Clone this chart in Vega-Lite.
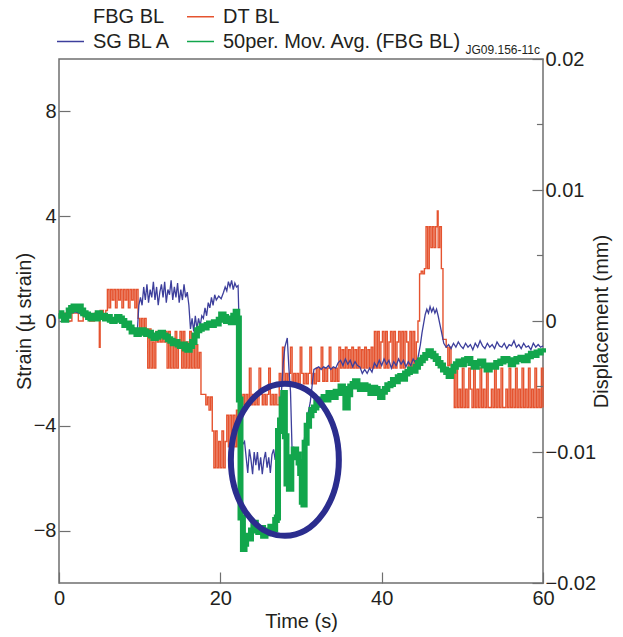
{
"$schema": "https://vega.github.io/schema/vega-lite/v6.json",
"autosize": {"type": "none"},
"width": 484,
"height": 524,
"padding": {"left": 59, "top": 59, "right": 80, "bottom": 54},
"background": "white",
"config": {
  "font": "Liberation Sans",
  "view": {"stroke": "#6f6f6f", "strokeWidth": 1.5},
  "axis": {"domain": false, "grid": false, "labelFontSize": 20, "titleFontSize": 20, "titleFontWeight": "normal", "labelColor": "#231f20", "titleColor": "#231f20", "tickColor": "#6f6f6f", "tickWidth": 1.2, "labelFlush": false}
},
"title": {"text": "JG09.156-11c", "anchor": "end", "frame": "group", "fontSize": 12, "fontWeight": "normal", "offset": 5, "dy": 60, "dx": -3, "color": "#231f20"},
"datasets": {
  "dt": [
    {"t":0,"v":0.0006},{"t":1.0,"v":0},{"t":1.6,"v":0.0006},{"t":2.4,"v":0},{"t":3.0,"v":0.0006},{"t":3.8,"v":0},{"t":4.4,"v":0.0006},{"t":5.0,"v":-0.002},{"t":5.1,"v":0.0008},{"t":5.5,"v":0.0002},{"t":5.8,"v":0.0008},
    {"t":6.0,"v":0.0024},{"t":6.2,"v":0.001},{"t":6.4,"v":0.0024},{"t":6.6,"v":0.0016},{"t":6.8,"v":0.0024},{"t":7.0,"v":0.001},{"t":7.2,"v":0.0024},{"t":7.4,"v":0.0016},{"t":7.6,"v":0.0024},{"t":7.8,"v":0.001},{"t":8.0,"v":0.0024},{"t":8.2,"v":0.0016},{"t":8.4,"v":0.0024},{"t":8.6,"v":0.001},{"t":8.8,"v":0.0024},{"t":9.0,"v":0.0016},{"t":9.2,"v":0.0024},{"t":9.4,"v":0.001},{"t":9.6,"v":0.0024},
    {"t":9.8,"v":0.0002},{"t":10.0,"v":-0.0006},{"t":10.2,"v":0.0002},{"t":10.4,"v":-0.0006},{"t":10.6,"v":0.0002},{"t":10.8,"v":-0.0006},{"t":11.0,"v":-0.0036},{"t":11.2,"v":-0.0006},{"t":11.4,"v":-0.0036},{"t":11.6,"v":-0.0016},{"t":11.8,"v":-0.0036},
    {"t":12.0,"v":-0.0008},{"t":12.2,"v":-0.0016},{"t":12.4,"v":-0.0008},{"t":12.6,"v":-0.0016},{"t":12.8,"v":-0.0008},{"t":13.0,"v":-0.0016},{"t":13.2,"v":-0.0008},{"t":13.4,"v":-0.0036},{"t":13.6,"v":-0.0008},{"t":13.8,"v":-0.0036},{"t":14.0,"v":-0.0016},{"t":14.2,"v":-0.0036},{"t":14.4,"v":-0.0008},{"t":14.6,"v":-0.0036},{"t":14.8,"v":-0.0016},{"t":15.0,"v":-0.0008},{"t":15.2,"v":-0.0036},{"t":15.4,"v":-0.0008},{"t":15.6,"v":-0.0036},{"t":15.8,"v":-0.0016},{"t":16.0,"v":-0.0036},{"t":16.2,"v":-0.0008},{"t":16.4,"v":-0.0036},{"t":16.6,"v":-0.0018},{"t":16.8,"v":-0.0036},{"t":17.0,"v":-0.0018},{"t":17.2,"v":-0.0036},{"t":17.4,"v":-0.0024},
    {"t":17.6,"v":-0.0056},{"t":17.9,"v":-0.0056},{"t":18.2,"v":-0.0064},{"t":18.4,"v":-0.0058},{"t":18.6,"v":-0.0068},{"t":18.8,"v":-0.0058},{"t":19.0,"v":-0.0084},{"t":19.2,"v":-0.0112},{"t":19.4,"v":-0.0084},{"t":19.6,"v":-0.0112},{"t":19.8,"v":-0.0092},{"t":20.0,"v":-0.0112},{"t":20.2,"v":-0.0084},{"t":20.4,"v":-0.0112},{"t":20.6,"v":-0.0092},{"t":20.8,"v":-0.0072},{"t":21.0,"v":-0.0096},{"t":21.2,"v":-0.0072},{"t":21.4,"v":-0.0096},{"t":21.6,"v":-0.0072},{"t":21.8,"v":-0.0096},{"t":22.0,"v":-0.0068},{"t":22.2,"v":-0.0096},
    {"t":22.4,"v":-0.0056},{"t":22.6,"v":-0.0064},{"t":22.8,"v":-0.0056},{"t":23.0,"v":-0.0064},{"t":23.2,"v":-0.0056},{"t":23.4,"v":-0.0064},{"t":23.6,"v":-0.0036},{"t":23.8,"v":-0.0064},{"t":24.0,"v":-0.0056},{"t":24.2,"v":-0.0064},{"t":24.4,"v":-0.0056},{"t":24.6,"v":-0.0064},{"t":24.8,"v":-0.0036},{"t":25.0,"v":-0.0056},{"t":25.2,"v":-0.0064},{"t":25.4,"v":-0.0056},{"t":25.6,"v":-0.0064},{"t":25.8,"v":-0.0056},{"t":26.0,"v":-0.0036},{"t":26.2,"v":-0.0064},{"t":26.4,"v":-0.0056},{"t":26.6,"v":-0.0064},{"t":26.8,"v":-0.0056},{"t":27.0,"v":-0.0064},
    {"t":27.3,"v":-0.004},{"t":27.5,"v":-0.0048},{"t":27.7,"v":-0.002},{"t":27.9,"v":-0.0048},{"t":28.1,"v":-0.004},{"t":28.3,"v":-0.0048},{"t":28.5,"v":-0.004},{"t":28.7,"v":-0.002},{"t":28.9,"v":-0.0048},{"t":29.1,"v":-0.004},{"t":29.3,"v":-0.0048},{"t":29.5,"v":-0.004},{"t":29.7,"v":-0.0048},{"t":29.9,"v":-0.002},{"t":30.1,"v":-0.004},{"t":30.3,"v":-0.0048},{"t":30.5,"v":-0.004},{"t":30.7,"v":-0.0048},{"t":30.9,"v":-0.004},{"t":31.1,"v":-0.002},{"t":31.3,"v":-0.0048},{"t":31.5,"v":-0.004},{"t":31.7,"v":-0.0048},
    {"t":31.9,"v":-0.0036},{"t":32.1,"v":-0.0046},{"t":32.3,"v":-0.0036},{"t":32.5,"v":-0.002},{"t":32.7,"v":-0.0046},{"t":32.9,"v":-0.0036},{"t":33.1,"v":-0.0046},{"t":33.3,"v":-0.0036},{"t":33.5,"v":-0.002},{"t":33.7,"v":-0.0046},{"t":33.9,"v":-0.0036},{"t":34.1,"v":-0.0046},{"t":34.3,"v":-0.0036},{"t":34.5,"v":-0.0046},{"t":34.7,"v":-0.002},{"t":34.9,"v":-0.0036},
    {"t":35.1,"v":-0.0022},{"t":35.3,"v":-0.0036},{"t":35.5,"v":-0.002},{"t":35.7,"v":-0.0036},{"t":35.9,"v":-0.0022},{"t":36.1,"v":-0.0036},{"t":36.3,"v":-0.002},{"t":36.5,"v":-0.0036},{"t":36.7,"v":-0.0022},{"t":36.9,"v":-0.0036},{"t":37.1,"v":-0.002},{"t":37.3,"v":-0.0036},{"t":37.5,"v":-0.0022},{"t":37.7,"v":-0.0036},{"t":37.9,"v":-0.002},{"t":38.1,"v":-0.0036},{"t":38.3,"v":-0.0022},{"t":38.5,"v":-0.0036},{"t":38.7,"v":-0.002},{"t":38.9,"v":-0.0036},
    {"t":39.1,"v":-0.0008},{"t":39.3,"v":-0.0036},{"t":39.5,"v":-0.0008},{"t":39.7,"v":-0.0036},{"t":39.9,"v":-0.0016},{"t":40.1,"v":-0.0008},{"t":40.3,"v":-0.0036},{"t":40.5,"v":-0.0008},{"t":40.7,"v":-0.0036},{"t":40.9,"v":-0.0016},{"t":41.1,"v":-0.0008},{"t":41.3,"v":-0.0036},{"t":41.5,"v":-0.0008},{"t":41.7,"v":-0.0036},{"t":41.9,"v":-0.0016},{"t":42.1,"v":-0.0008},{"t":42.3,"v":-0.0036},{"t":42.5,"v":-0.0008},{"t":42.7,"v":-0.0036},{"t":42.9,"v":-0.0008},{"t":43.1,"v":-0.0016},{"t":43.3,"v":-0.0036},{"t":43.5,"v":-0.0008},{"t":43.7,"v":-0.0036},{"t":43.9,"v":-0.0008},{"t":44.1,"v":-0.0036},{"t":44.3,"v":-0.0016},
    {"t":44.5,"v":0.0},{"t":44.7,"v":0.0036},{"t":44.9,"v":0.0038},{"t":45.1,"v":0.0036},{"t":45.3,"v":0.004},{"t":45.5,"v":0.0072},{"t":45.7,"v":0.004},{"t":45.9,"v":0.0072},{"t":46.1,"v":0.0056},{"t":46.3,"v":0.0072},{"t":46.5,"v":0.0056},{"t":46.7,"v":0.0072},{"t":46.9,"v":0.0084},{"t":47.0,"v":0.0056},{"t":47.2,"v":0.0072},{"t":47.4,"v":0.004},
    {"t":47.6,"v":-0.0014},{"t":47.8,"v":-0.0014},{"t":48.0,"v":-0.002},{"t":48.2,"v":-0.0034},{"t":48.4,"v":-0.002},{"t":48.6,"v":-0.0034},{"t":48.8,"v":-0.0036},
    {"t":49.0,"v":-0.0066},{"t":49.2,"v":-0.0036},{"t":49.4,"v":-0.0066},{"t":49.6,"v":-0.0052},{"t":49.8,"v":-0.0066},{"t":50.0,"v":-0.0036},{"t":50.2,"v":-0.0066},{"t":50.4,"v":-0.0052},{"t":50.6,"v":-0.0066},{"t":50.8,"v":-0.0036},{"t":51.0,"v":-0.0052},{"t":51.2,"v":-0.0066},{"t":51.4,"v":-0.0036},{"t":51.6,"v":-0.0066},{"t":51.8,"v":-0.0052},{"t":52.0,"v":-0.0066},{"t":52.2,"v":-0.0036},{"t":52.4,"v":-0.0066},{"t":52.6,"v":-0.0052},{"t":52.8,"v":-0.0066},{"t":53.0,"v":-0.0036},{"t":53.2,"v":-0.0066},{"t":53.4,"v":-0.0066},{"t":53.6,"v":-0.0052},{"t":53.8,"v":-0.0066},{"t":54.0,"v":-0.0036},{"t":54.2,"v":-0.0066},{"t":54.4,"v":-0.0052},{"t":54.6,"v":-0.0066},{"t":54.8,"v":-0.0036},{"t":55.0,"v":-0.0066},{"t":55.2,"v":-0.0066},{"t":55.4,"v":-0.0052},{"t":55.6,"v":-0.0066},{"t":55.8,"v":-0.0036},{"t":56.0,"v":-0.0066},{"t":56.2,"v":-0.0052},{"t":56.4,"v":-0.0066},{"t":56.6,"v":-0.0036},{"t":56.8,"v":-0.0066},{"t":57.0,"v":-0.0052},{"t":57.2,"v":-0.0066},{"t":57.4,"v":-0.0036},{"t":57.6,"v":-0.0066},{"t":57.8,"v":-0.0052},{"t":58.0,"v":-0.0066},{"t":58.2,"v":-0.0036},{"t":58.4,"v":-0.0066},{"t":58.6,"v":-0.0052},{"t":58.8,"v":-0.0066},{"t":59.0,"v":-0.0036},{"t":59.2,"v":-0.0066},{"t":59.4,"v":-0.0052},{"t":59.6,"v":-0.0066},{"t":59.8,"v":-0.0036},{"t":60,"v":-0.0066}
  ],
  "minor": [{"v":0.015},{"v":0.005},{"v":-0.005},{"v":-0.015}],
  "sg": [
    {"t":0,"v":0.2},{"t":0.5,"v":0.25},{"t":1,"v":0.3},{"t":1.5,"v":0.3},{"t":2,"v":0.35},{"t":2.5,"v":0.3},{"t":3,"v":0.2},{"t":3.5,"v":0.15},{"t":4,"v":0.15},{"t":4.5,"v":0.2},{"t":5,"v":0.15},{"t":5.5,"v":0.1},{"t":6,"v":0.05},{"t":6.5,"v":0.05},{"t":7,"v":0.1},{"t":7.5,"v":0.05},{"t":8,"v":-0.05},{"t":8.5,"v":-0.1},{"t":9,"v":-0.2},{"t":9.5,"v":-0.3},{"t":9.7,"v":-0.45},
    {"t":9.9,"v":0.6},{"t":10.1,"v":0.9},{"t":10.3,"v":0.6},{"t":10.5,"v":1.3},{"t":10.7,"v":0.8},{"t":10.9,"v":1.4},{"t":11.1,"v":0.7},{"t":11.3,"v":1.2},{"t":11.5,"v":0.9},{"t":11.7,"v":1.5},{"t":11.9,"v":0.8},{"t":12.1,"v":1.3},{"t":12.3,"v":0.6},{"t":12.5,"v":1.1},{"t":12.7,"v":1.4},{"t":12.9,"v":0.9},{"t":13.1,"v":1.5},{"t":13.3,"v":0.7},{"t":13.5,"v":1.2},{"t":13.7,"v":1.0},{"t":13.9,"v":1.55},{"t":14.1,"v":0.8},{"t":14.3,"v":1.3},{"t":14.5,"v":0.9},{"t":14.7,"v":1.45},{"t":14.9,"v":0.7},{"t":15.1,"v":1.2},{"t":15.3,"v":0.8},{"t":15.5,"v":1.4},{"t":15.7,"v":0.9},{"t":15.9,"v":1.1},{"t":16.1,"v":0.6},
    {"t":16.3,"v":-0.3},{"t":16.5,"v":0.1},{"t":16.7,"v":-0.4},{"t":16.9,"v":0.2},{"t":17.1,"v":-0.3},{"t":17.3,"v":0.1},{"t":17.5,"v":-0.2},{"t":17.7,"v":0.2},{"t":17.9,"v":0.1},{"t":18.1,"v":0.5},{"t":18.3,"v":0.2},{"t":18.5,"v":0.7},{"t":18.7,"v":0.5},{"t":18.9,"v":0.9},{"t":19.1,"v":0.6},{"t":19.3,"v":1.0},{"t":19.5,"v":0.8},{"t":19.8,"v":0.95},{"t":20.1,"v":0.85},{"t":20.4,"v":1.1},{"t":20.6,"v":1.3},{"t":20.8,"v":1.15},{"t":21.0,"v":1.5},{"t":21.2,"v":1.3},{"t":21.4,"v":1.55},{"t":21.6,"v":1.2},{"t":21.8,"v":1.45},{"t":22.0,"v":1.3},{"t":22.2,"v":1.35},
    {"t":22.4,"v":-1.0},{"t":22.6,"v":-4.5},{"t":22.8,"v":-4.7},{"t":23.0,"v":-4.6},{"t":23.2,"v":-5.2},{"t":23.4,"v":-5.8},{"t":23.6,"v":-4.9},{"t":23.8,"v":-5.3},{"t":24.0,"v":-5.85},{"t":24.2,"v":-5.0},{"t":24.4,"v":-5.5},{"t":24.6,"v":-5.0},{"t":24.8,"v":-5.7},{"t":25.0,"v":-5.2},{"t":25.2,"v":-5.85},{"t":25.4,"v":-5.3},{"t":25.6,"v":-5.0},{"t":25.8,"v":-5.6},{"t":26.0,"v":-5.2},{"t":26.2,"v":-5.8},{"t":26.4,"v":-5.1},{"t":26.6,"v":-4.9},{"t":26.8,"v":-5.3},{"t":27.0,"v":-4.7},{"t":27.2,"v":-4.6},
    {"t":27.4,"v":-3.3},{"t":27.6,"v":-2.6},{"t":27.8,"v":-1.6},{"t":28.0,"v":-1.0},{"t":28.3,"v":-0.65},{"t":28.5,"v":-1.8},{"t":28.7,"v":-2.7},{"t":28.9,"v":-5.0},{"t":29.1,"v":-4.8},{"t":29.3,"v":-5.3},{"t":29.5,"v":-4.9},{"t":29.7,"v":-5.7},{"t":29.9,"v":-5.5},{"t":30.0,"v":-6.3},{"t":30.2,"v":-5.4},{"t":30.3,"v":-4.8},{"t":30.5,"v":-4.3},{"t":30.7,"v":-3.9},{"t":30.9,"v":-3.5},{"t":31.15,"v":-3.1},{"t":31.4,"v":-2.4},{"t":31.6,"v":-1.85},
    {"t":31.9,"v":-1.8},{"t":32.2,"v":-1.75},{"t":32.5,"v":-1.85},{"t":32.8,"v":-1.75},{"t":33.1,"v":-1.8},{"t":33.4,"v":-1.7},{"t":33.7,"v":-1.85},{"t":34.0,"v":-1.75},{"t":34.3,"v":-1.8},{"t":34.6,"v":-1.6},{"t":34.9,"v":-1.5},{"t":35.2,"v":-1.7},{"t":35.5,"v":-1.45},{"t":35.8,"v":-1.65},{"t":36.1,"v":-1.5},{"t":36.4,"v":-1.75},{"t":36.7,"v":-1.55},{"t":37.0,"v":-1.7},{"t":37.3,"v":-1.75},{"t":37.6,"v":-2.0},{"t":37.9,"v":-1.85},{"t":38.2,"v":-2.0},{"t":38.5,"v":-1.8},{"t":38.8,"v":-1.95},{"t":39.1,"v":-1.6},{"t":39.4,"v":-1.75},{"t":39.7,"v":-1.5},{"t":40.0,"v":-1.7},{"t":40.3,"v":-1.45},{"t":40.6,"v":-1.65},{"t":40.9,"v":-1.5},{"t":41.2,"v":-1.8},{"t":41.5,"v":-1.55},{"t":41.8,"v":-1.7},{"t":42.1,"v":-1.45},{"t":42.4,"v":-1.65},{"t":42.7,"v":-1.5},{"t":43.0,"v":-1.75},{"t":43.3,"v":-1.55},{"t":43.6,"v":-1.7},{"t":43.9,"v":-1.45},{"t":44.2,"v":-1.6},{"t":44.5,"v":-1.4},
    {"t":44.8,"v":-0.9},{"t":45.0,"v":-0.45},{"t":45.2,"v":-0.1},{"t":45.4,"v":0.25},{"t":45.6,"v":0.45},{"t":45.8,"v":0.3},{"t":46.0,"v":0.55},{"t":46.2,"v":0.35},{"t":46.4,"v":0.5},{"t":46.6,"v":0.3},{"t":46.8,"v":0.45},{"t":47.0,"v":0.2},{"t":47.2,"v":-0.1},{"t":47.4,"v":-0.4},{"t":47.7,"v":-0.85},
    {"t":48.0,"v":-1.0},{"t":48.3,"v":-0.9},{"t":48.6,"v":-1.05},{"t":48.9,"v":-0.85},{"t":49.2,"v":-1.0},{"t":49.5,"v":-0.8},{"t":49.8,"v":-0.95},{"t":50.1,"v":-1.05},{"t":50.4,"v":-0.85},{"t":50.7,"v":-1.0},{"t":51.0,"v":-0.9},{"t":51.3,"v":-1.1},{"t":51.6,"v":-0.85},{"t":51.9,"v":-1.0},{"t":52.2,"v":-0.75},{"t":52.5,"v":-0.95},{"t":52.8,"v":-1.05},{"t":53.1,"v":-0.85},{"t":53.4,"v":-1.0},{"t":53.7,"v":-0.9},{"t":54.0,"v":-1.05},{"t":54.3,"v":-0.8},{"t":54.6,"v":-0.95},{"t":54.9,"v":-1.0},{"t":55.2,"v":-0.85},{"t":55.5,"v":-1.05},{"t":55.8,"v":-0.9},{"t":56.1,"v":-0.95},{"t":56.4,"v":-0.75},{"t":56.7,"v":-1.0},{"t":57.0,"v":-0.9},{"t":57.3,"v":-1.05},{"t":57.6,"v":-0.85},{"t":57.9,"v":-1.0},{"t":58.2,"v":-0.95},{"t":58.5,"v":-1.1},{"t":58.8,"v":-0.85},{"t":59.1,"v":-1.0},{"t":59.4,"v":-0.9},{"t":59.7,"v":-1.0},{"t":60,"v":-0.95}
  ],
  "fbg": [
    {"t":0,"v":0.3},{"t":0.3,"v":0.2},{"t":0.6,"v":0.05},{"t":0.9,"v":0.2},{"t":1.2,"v":0.4},{"t":1.5,"v":0.5},{"t":1.8,"v":0.55},{"t":2.1,"v":0.45},{"t":2.4,"v":0.55},{"t":2.7,"v":0.4},{"t":3.0,"v":0.3},{"t":3.3,"v":0.25},{"t":3.6,"v":0.15},{"t":3.9,"v":0.1},{"t":4.2,"v":0.2},{"t":4.5,"v":0.1},{"t":4.8,"v":0.3},{"t":5.1,"v":0.15},{"t":5.4,"v":0.2},{"t":5.7,"v":0.1},{"t":6.0,"v":0.15},{"t":6.3,"v":0.05},{"t":6.6,"v":0.0},{"t":6.9,"v":0.05},{"t":7.2,"v":0.15},{"t":7.5,"v":0.1},{"t":7.8,"v":0.0},{"t":8.1,"v":-0.15},{"t":8.4,"v":-0.1},{"t":8.7,"v":-0.25},{"t":9.0,"v":-0.4},{"t":9.3,"v":-0.35},{"t":9.6,"v":-0.5},{"t":9.9,"v":-0.45},
    {"t":10.2,"v":-0.35},{"t":10.5,"v":-0.4},{"t":10.8,"v":-0.5},{"t":11.1,"v":-0.45},{"t":11.4,"v":-0.55},{"t":11.7,"v":-0.65},{"t":12.0,"v":-0.6},{"t":12.3,"v":-0.5},{"t":12.6,"v":-0.45},{"t":12.9,"v":-0.55},{"t":13.2,"v":-0.6},{"t":13.5,"v":-0.7},{"t":13.8,"v":-0.75},{"t":14.1,"v":-0.85},{"t":14.4,"v":-0.8},{"t":14.7,"v":-0.9},{"t":15.0,"v":-0.95},{"t":15.3,"v":-0.9},{"t":15.6,"v":-1.05},{"t":15.9,"v":-1.1},{"t":16.2,"v":-0.95},{"t":16.5,"v":-0.8},{"t":16.8,"v":-0.55},{"t":17.1,"v":-0.35},{"t":17.4,"v":-0.3},{"t":17.7,"v":-0.2},{"t":18.0,"v":-0.25},{"t":18.3,"v":-0.15},{"t":18.6,"v":-0.1},{"t":18.9,"v":-0.15},{"t":19.2,"v":-0.05},{"t":19.5,"v":-0.1},{"t":19.8,"v":0.05},{"t":20.1,"v":0.25},{"t":20.4,"v":0.15},{"t":20.7,"v":0.0},{"t":21.0,"v":0.1},{"t":21.3,"v":-0.05},{"t":21.6,"v":0.2},{"t":21.9,"v":0.35},{"t":22.1,"v":0.1},
    {"t":22.3,"v":-3.0},{"t":22.5,"v":-7.5},{"t":22.8,"v":-8.7},{"t":23.0,"v":-8.5},{"t":23.2,"v":-8.2},{"t":23.5,"v":-8.3},{"t":23.8,"v":-8.0},{"t":24.1,"v":-7.7},{"t":24.4,"v":-7.9},{"t":24.7,"v":-8.05},{"t":25.0,"v":-7.9},{"t":25.3,"v":-8.2},{"t":25.6,"v":-8.1},{"t":25.9,"v":-8.0},{"t":26.2,"v":-7.85},{"t":26.5,"v":-7.95},{"t":26.8,"v":-7.6},{"t":27.0,"v":-7.5},
    {"t":27.15,"v":-4.2},{"t":27.4,"v":-3.8},{"t":27.6,"v":-3.0},{"t":27.8,"v":-2.75},{"t":28.0,"v":-4.4},{"t":28.2,"v":-6.2},{"t":28.5,"v":-6.4},{"t":28.8,"v":-5.2},{"t":29.1,"v":-4.9},{"t":29.4,"v":-5.1},{"t":29.7,"v":-5.4},{"t":29.9,"v":-5.8},{"t":30.1,"v":-6.9},{"t":30.3,"v":-7.0},{"t":30.45,"v":-4.65},{"t":30.7,"v":-4.0},{"t":31.0,"v":-3.6},{"t":31.3,"v":-3.4},{"t":31.6,"v":-3.3},{"t":31.9,"v":-3.1},{"t":32.2,"v":-3.2},{"t":32.5,"v":-3.0},{"t":32.8,"v":-2.9},{"t":33.1,"v":-3.0},{"t":33.4,"v":-2.75},{"t":33.7,"v":-2.85},{"t":34.0,"v":-2.9},{"t":34.3,"v":-2.7},{"t":34.6,"v":-2.75},{"t":34.9,"v":-2.5},{"t":35.2,"v":-2.6},{"t":35.5,"v":-3.3},{"t":35.8,"v":-2.8},
    {"t":36.1,"v":-2.5},{"t":36.4,"v":-2.4},{"t":36.7,"v":-2.3},{"t":37.0,"v":-2.5},{"t":37.3,"v":-2.6},{"t":37.6,"v":-2.45},{"t":38.0,"v":-2.5},{"t":38.3,"v":-2.6},{"t":38.6,"v":-2.75},{"t":38.9,"v":-2.55},{"t":39.2,"v":-2.6},{"t":39.5,"v":-2.75},{"t":39.8,"v":-2.9},{"t":40.1,"v":-2.7},{"t":40.4,"v":-2.6},{"t":40.7,"v":-2.45},{"t":41.1,"v":-2.4},{"t":41.4,"v":-2.25},{"t":41.7,"v":-2.3},{"t":42.0,"v":-2.15},{"t":42.3,"v":-2.1},{"t":42.6,"v":-2.2},{"t":42.9,"v":-2.0},{"t":43.2,"v":-1.95},{"t":43.5,"v":-1.85},{"t":43.8,"v":-1.9},{"t":44.2,"v":-1.75},{"t":44.5,"v":-1.6},{"t":44.8,"v":-1.5},{"t":45.1,"v":-1.4},{"t":45.4,"v":-1.3},{"t":45.8,"v":-1.15},{"t":46.1,"v":-1.25},{"t":46.4,"v":-1.35},{"t":46.7,"v":-1.45},{"t":47.0,"v":-1.6},{"t":47.3,"v":-1.7},{"t":47.6,"v":-1.85},{"t":48.0,"v":-1.95},{"t":48.3,"v":-2.1},{"t":48.6,"v":-1.9},{"t":48.9,"v":-1.75},
    {"t":49.2,"v":-1.65},{"t":49.5,"v":-1.55},{"t":49.8,"v":-1.65},{"t":50.2,"v":-1.5},{"t":50.6,"v":-1.45},{"t":51.0,"v":-1.6},{"t":51.4,"v":-1.75},{"t":51.8,"v":-1.6},{"t":52.2,"v":-1.55},{"t":52.6,"v":-1.7},{"t":53.0,"v":-1.85},{"t":53.4,"v":-1.7},{"t":53.8,"v":-1.75},{"t":54.2,"v":-1.6},{"t":54.7,"v":-1.55},{"t":55.1,"v":-1.45},{"t":55.6,"v":-1.5},{"t":56.0,"v":-1.65},{"t":56.3,"v":-1.55},{"t":56.7,"v":-1.45},{"t":57.2,"v":-1.4},{"t":57.6,"v":-1.5},{"t":58.1,"v":-1.35},{"t":58.5,"v":-1.25},{"t":58.8,"v":-1.3},{"t":59.2,"v":-1.2},{"t":59.7,"v":-1.15},{"t":60,"v":-1.2}
  ],
  "circle": [{"t":28.0,"v":-5.3}]
},
"layer": [
  {
    "layer": [
      {
        "data": {"name": "dt"},
        "mark": {"type": "line", "interpolate": "step-after", "strokeWidth": 1.4},
        "encoding": {
          "x": {"field": "t", "type": "quantitative", "scale": {"domain": [0, 60], "nice": false},
                "axis": {"values": [0, 20, 40, 60], "title": "Time (s)", "tickSize": -11, "labelPadding": 16, "titleY": 38, "titleBaseline": "middle"}},
          "y": {"field": "v", "type": "quantitative", "scale": {"domain": [-0.02, 0.02], "nice": false},
                "axis": {"orient": "right", "title": "Displacement (mm)", "values": [-0.02, -0.01, 0, 0.01, 0.02], "format": ".2~f", "tickSize": -11, "labelPadding": 13, "titleAngle": 270, "titleX": 58, "titleY": 262, "titleBaseline": "middle"}},
          "color": {"datum": "DT BL", "type": "nominal",
                    "scale": {"domain": ["FBG BL", "DT BL", "SG BL A", "50per. Mov. Avg. (FBG BL)"], "range": ["#ffffff", "#e5532f", "#3d3f9c", "#12a64c"]},
                    "legend": {"orient": "none", "legendX": -3, "legendY": -57, "direction": "horizontal", "columns": 2, "title": null, "symbolType": "stroke", "symbolSize": 729, "symbolStrokeWidth": 1.5, "labelFontSize": 20, "labelColor": "#231f20", "labelOffset": 8, "columnPadding": 13, "rowPadding": 0, "labelLimit": 400}}
        }
      },
      {
        "data": {"name": "minor"},
        "mark": {"type": "rule", "color": "#6f6f6f", "strokeWidth": 1.2},
        "encoding": {
          "x": {"datum": 60},
          "x2": {"datum": 59.25},
          "y": {"field": "v", "type": "quantitative",
                "axis": {"orient": "right", "title": "Displacement (mm)", "values": [-0.02, -0.01, 0, 0.01, 0.02], "format": ".2~f", "tickSize": -11, "labelPadding": 13, "titleAngle": 270, "titleX": 58, "titleY": 262, "titleBaseline": "middle"}}
        }
      }
    ]
  },
  {
    "layer": [
      {
        "data": {"name": "sg"},
        "mark": {"type": "line", "strokeWidth": 1.3},
        "encoding": {
          "x": {"field": "t", "type": "quantitative"},
          "y": {"field": "v", "type": "quantitative", "scale": {"domain": [-10, 10], "nice": false},
                "axis": {"orient": "left", "title": "Strain (µ strain)", "values": [-8, -4, 0, 4, 8], "format": "d", "tickSize": -11, "labelPadding": 14, "titleAngle": 270, "titleX": -35, "titleY": 262, "titleBaseline": "middle"}},
          "color": {"datum": "SG BL A", "type": "nominal"}
        }
      },
      {
        "data": {"name": "fbg"},
        "mark": {"type": "line", "interpolate": "step-after", "strokeWidth": 6},
        "encoding": {
          "x": {"field": "t", "type": "quantitative"},
          "y": {"field": "v", "type": "quantitative"},
          "color": {"datum": "50per. Mov. Avg. (FBG BL)", "type": "nominal"}
        }
      },
      {
        "data": {"name": "circle"},
        "mark": {"type": "point", "shape": "M0,-1C0.3924,-1 0.7105,-0.5523 0.7105,0C0.7105,0.5523 0.3924,1 0,1C-0.3924,1 -0.7105,0.5523 -0.7105,0C-0.7105,-0.5523 -0.3924,-1 0,-1Z", "size": 23104, "filled": false, "strokeWidth": 6, "color": "#2b2d8e", "opacity": 1},
        "encoding": {
          "x": {"field": "t", "type": "quantitative"},
          "y": {"field": "v", "type": "quantitative"}
        }
      }
    ]
  }
],
"resolve": {"scale": {"y": "independent"}}
}
